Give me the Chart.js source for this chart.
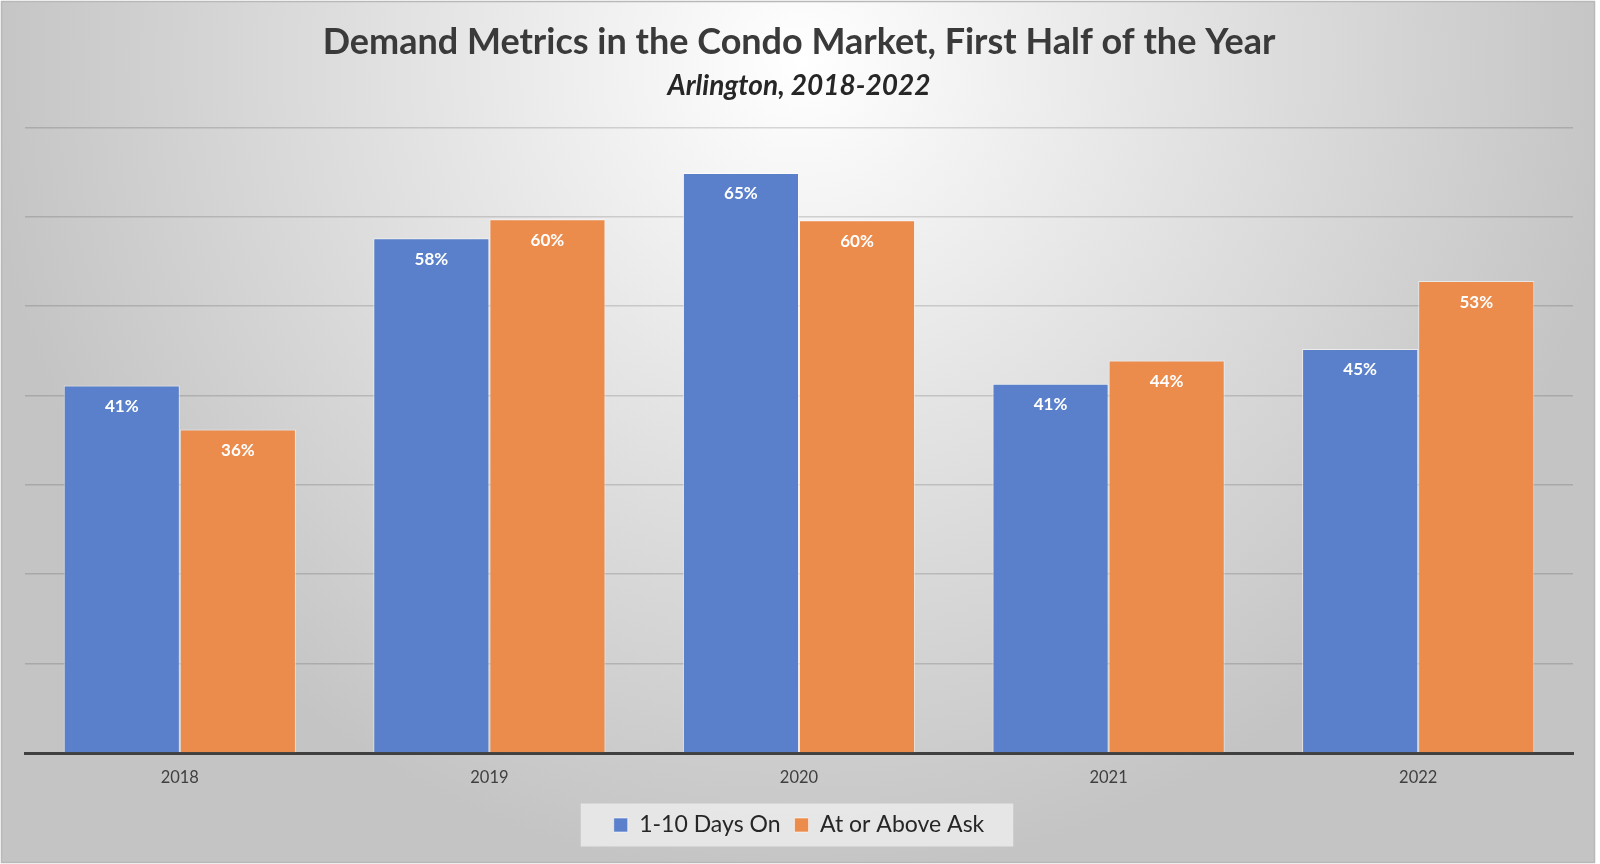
<!DOCTYPE html>
<html>
<head>
<meta charset="utf-8">
<script src="https://cdn.jsdelivr.net/npm/chart.js@4"></script>
<style>
  html, body { margin: 0; padding: 0; background: #fff; }
  #wrap { width: 1600px; height: 864px; }
</style>
</head>
<body>
<div id="wrap"><canvas id="demandChart" width="1600" height="864"></canvas></div>
<script>
// values (percent); labels show the rounded value
const years = ['2018', '2019', '2020', '2021', '2022'];
const daysOn = [41.1, 57.6, 64.9, 41.3, 45.2];
const aboveAsk = [36.2, 59.7, 59.6, 43.9, 52.8];
const seriesNames = ['1-10 Days On', 'At or Above Ask'];
const gridTicks = [0, 10, 20, 30, 40, 50, 60, 70];

const backdrop = {
  id: 'backdrop',
  beforeDraw(chart) {
    const ctx = chart.ctx;
    ctx.save();
    ctx.fillStyle = '#ffffff';
    ctx.fillRect(0, 0, chart.width, chart.height);
    const g = ctx.createRadialGradient(800, 60, 0, 800, 60, 820);
    g.addColorStop(0, '#ffffff');
    g.addColorStop(0.45, '#e4e4e4');
    g.addColorStop(1, '#c4c4c4');
    ctx.fillStyle = g;
    ctx.fillRect(2, 2, 1592, 860);
    ctx.strokeStyle = '#b8b8b8';
    ctx.lineWidth = 1.5;
    ctx.strokeRect(1.5, 1.5, 1593, 861);

    // legend panel
    const boxes = chart.legend.legendHitBoxes;
    if (boxes && boxes.length) {
      const minX = Math.min(...boxes.map(b => b.left));
      const maxX = Math.max(...boxes.map(b => b.left + b.width));
      const cy = boxes[0].top + boxes[0].height / 2;
      ctx.fillStyle = 'rgba(240,240,240,0.75)';
      ctx.fillRect(minX - 33, cy - 21.5, maxX - minX + 62, 43);
    }
    ctx.restore();
  }
};

const barLabels = {
  id: 'barLabels',
  afterDatasetsDraw(chart) {
    const ctx = chart.ctx;
    ctx.save();
    ctx.fillStyle = '#ffffff';
    ctx.font = 'bold 17px Lato';
    ctx.textAlign = 'center';
    ctx.textBaseline = 'middle';
    chart.data.datasets.forEach((ds, i) => {
      chart.getDatasetMeta(i).data.forEach((bar, j) => {
        ctx.fillText(Math.round(ds.data[j]) + '%', bar.x, bar.y + 21);
      });
    });
    ctx.restore();
  }
};

new Chart(document.getElementById('demandChart'), {
  type: 'bar',
  data: {
    labels: years,
    datasets: [
      {
        label: seriesNames[0],
        data: daysOn,
        backgroundColor: '#5a80cb',
        borderColor: 'rgba(255,255,255,0.55)',
        borderWidth: 1,
      },
      {
        label: seriesNames[1],
        data: aboveAsk,
        backgroundColor: '#ec8c4c',
        borderColor: 'rgba(255,255,255,0.55)',
        borderWidth: 1,
      },
    ],
  },
  options: {
    responsive: false,
    animation: false,
    layout: { padding: { left: 25, right: 27, top: 0, bottom: 17.5 } },
    datasets: { bar: { categoryPercentage: 0.75, barPercentage: 1.0 } },
    scales: {
      x: {
        grid: { display: false, drawTicks: false },
        border: { display: true, color: '#404040', width: 3 },
        ticks: { color: '#404040', font: { family: 'Lato', size: 16.5 }, padding: 15 },
        afterFit: (scale) => { scale.height = 46.5; },
      },
      y: {
        min: 0,
        max: 70,
        afterBuildTicks: (scale) => { scale.ticks = gridTicks.map(v => ({ value: v })); },
        ticks: { display: false },
        grid: { color: 'rgba(0,0,0,0.14)', lineWidth: 1.5, drawTicks: false },
        border: { display: false },
      },
    },
    plugins: {
      title: {
        display: true,
        text: 'Demand Metrics in the Condo Market, First Half of the Year',
        color: '#3a3a3a',
        font: { family: 'Lato', size: 36, weight: 'bold' },
        padding: { top: 20.5, bottom: 5 },
      },
      subtitle: {
        display: true,
        text: 'Arlington, 2018-2022',
        color: '#262626',
        font: { family: 'Lato', size: 28, weight: 'bold', style: 'italic' },
        padding: { top: 0, bottom: 25 },
      },
      legend: {
        position: 'bottom',
        labels: {
          boxWidth: 14,
          boxHeight: 14,
          padding: 14,
          color: '#262626',
          font: { family: 'Lato', size: 23 },
        },
      },
      tooltip: { enabled: false },
    },
  },
  plugins: [backdrop, barLabels],
});
</script>
</body>
</html>
